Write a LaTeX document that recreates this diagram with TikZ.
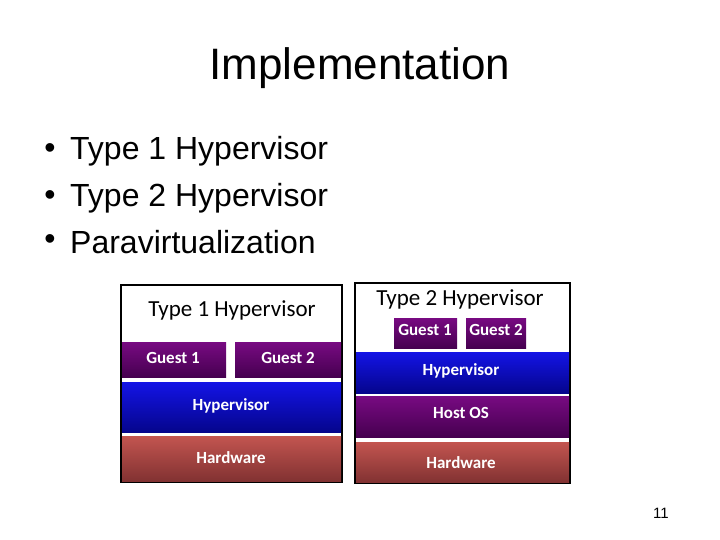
\documentclass[tikz,border=0pt]{standalone}
\usepackage{fontspec}
\setmainfont{Liberation Sans}
\newfontfamily\boxfont{Carlito}
\definecolor{guestpurple}{RGB}{120,10,130}
\definecolor{darkpurple}{RGB}{70,0,80}
\definecolor{hypblue}{RGB}{20,20,230}
\definecolor{darkblue}{RGB}{5,5,140}
\definecolor{hwred}{RGB}{195,85,80}
\definecolor{darkred}{RGB}{130,50,50}
\tikzset{
  layer/.style={inner sep=0pt,font=\boxfont\bfseries\fontsize{17}{20}\selectfont,text=white},
  paneltitle/.style={font=\boxfont\fontsize{23}{27}\selectfont},
  bullet/.style={anchor=west,font=\fontsize{32}{38}\selectfont}
}
\begin{document}
\begin{tikzpicture}[x=1pt,y=-1pt]
\useasboundingbox (0,0) rectangle (720,540);
\node (title) at (360,68) {\fontsize{44}{52}\selectfont Implementation};
\foreach \txt/\yy/\nm in {Type 1 Hypervisor/151/b1,Type 2 Hypervisor/198/b2,Paravirtualization/242/b3}{
  \node[font=\fontsize{32}{38}\selectfont] (\nm dot) at (50,\yy) {\textbullet};
  \node[bullet,inner sep=0pt] (\nm) at (70,\yy) {\txt};
}
% type 1
\draw[line width=1.5pt] (121,285) rectangle (342,482);
\node[paneltitle] (t1) at (232,310) {Type 1 Hypervisor};
\shade[top color=guestpurple,bottom color=darkpurple] (122,342) rectangle (226,377);
\node[layer] (g11) at (173,358) {Guest 1};
\shade[top color=guestpurple,bottom color=darkpurple] (235,342) rectangle (341,377);
\node[layer] (g12) at (288,358) {Guest 2};
\shade[top color=hypblue,bottom color=darkblue] (122,382) rectangle (341,432);
\node[layer] (h1) at (231,406) {Hypervisor};
\shade[top color=hwred,bottom color=darkred] (122,436) rectangle (341,481);
\node[layer] (hw1) at (231,458) {Hardware};
% type 2
\draw[line width=1.5pt] (355,283) rectangle (570,483);
\node[paneltitle] (t2) at (460,299) {Type 2 Hypervisor};
\shade[top color=guestpurple,bottom color=darkpurple] (394,318) rectangle (457,348);
\node[layer] (g21) at (425,330) {Guest 1};
\shade[top color=guestpurple,bottom color=darkpurple] (466,318) rectangle (526,348);
\node[layer] (g22) at (496,330) {Guest 2};
\shade[top color=hypblue,bottom color=darkblue] (356,352) rectangle (569,393);
\node[layer] (h2) at (461,371) {Hypervisor};
\shade[top color=guestpurple,bottom color=darkpurple] (356,396) rectangle (569,437);
\node[layer] (os2) at (461,413) {Host OS};
\shade[top color=hwred,bottom color=darkred] (356,442) rectangle (569,482);
\node[layer] (hw2) at (461,463) {Hardware};
\node[font=\fontsize{15}{18}\selectfont] (pg) at (661,513) {11};
\end{tikzpicture}
\end{document}
